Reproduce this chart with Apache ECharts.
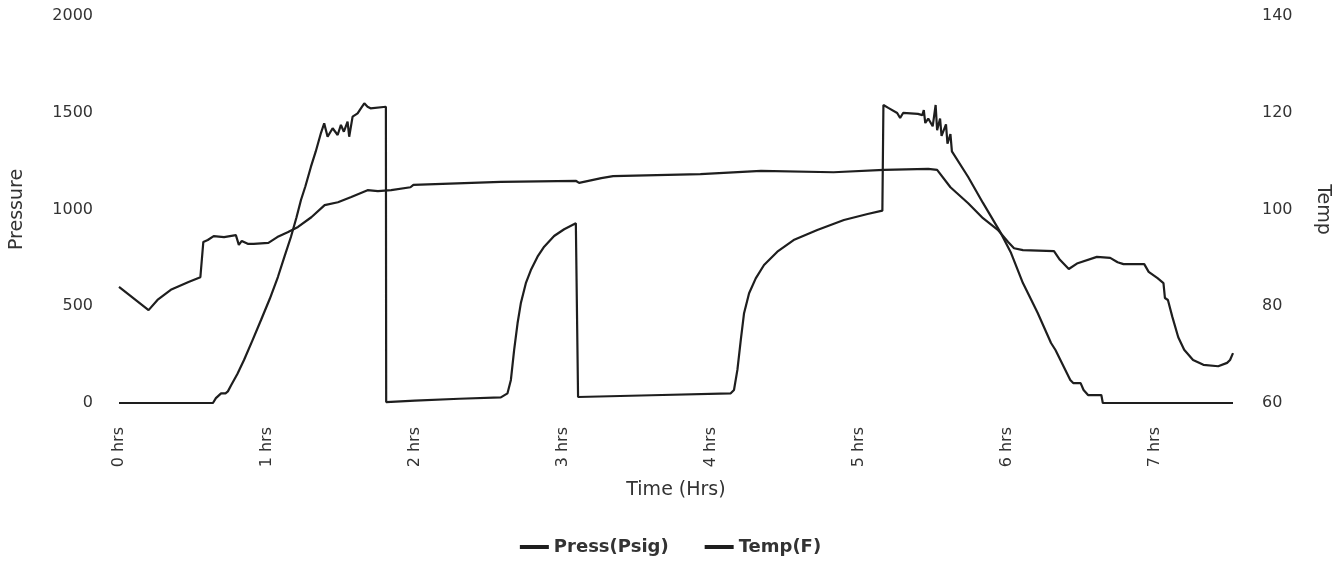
<!DOCTYPE html>
<html>
<head>
<meta charset="utf-8">
<script src="https://cdn.jsdelivr.net/npm/echarts@6/dist/echarts.min.js"></script>
<style>
html,body{margin:0;padding:0;background:#fff;}
#chart{width:1341px;height:567px;}
</style>
</head>
<body>
<div id="chart"></div>
<script>
// Time in hours
const pressTime = [0, 0.635, 0.655, 0.69, 0.72, 0.736, 0.757, 0.80, 0.845, 0.90, 0.96, 1.02, 1.074, 1.12, 1.162, 1.20, 1.23, 1.26, 1.297, 1.33, 1.365,
  1.387, 1.41, 1.444, 1.478, 1.50, 1.52, 1.545, 1.556, 1.579, 1.613, 1.635, 1.658, 1.68, 1.70, 1.804,
  1.806, 2.0, 2.3, 2.581, 2.626, 2.649, 2.671, 2.694, 2.716, 2.75, 2.784, 2.829, 2.874, 2.941, 3.009, 3.088, 3.10,
  3.103, 3.6, 4.135, 4.157, 4.18, 4.203, 4.225, 4.259, 4.304, 4.36, 4.45, 4.56, 4.72, 4.90, 5.06, 5.16,
  5.167, 5.20, 5.26, 5.28, 5.30, 5.40, 5.43, 5.44, 5.45, 5.47, 5.50, 5.52, 5.53, 5.55, 5.56, 5.59, 5.60, 5.62, 5.63, 5.74, 5.84, 5.96, 6.03, 6.11, 6.21, 6.30, 6.33, 6.43, 6.45, 6.50, 6.52, 6.55, 6.64, 6.65, 7.53];
const pressValues = [0, 0, 25, 50, 50, 60, 90, 150, 222, 320, 429, 540, 651, 760, 858, 960, 1049, 1120, 1220, 1300, 1395,
  1445, 1376, 1420, 1385, 1437, 1402, 1454, 1376, 1480, 1497, 1523, 1549, 1531, 1523, 1531,
  5, 12, 22, 29, 50, 119, 274, 412, 515, 619, 687, 756, 808, 863, 898, 929, 929,
  31, 40, 50, 67, 171, 326, 464, 567, 644, 713, 782, 842, 894, 946, 977, 994,
  1540, 1525, 1499, 1473, 1499, 1494, 1488, 1514, 1447, 1470, 1430, 1540, 1410, 1470, 1380, 1440, 1340, 1390, 1300, 1168, 1034, 879, 775, 620, 465, 310, 274, 119, 103, 103, 67, 41, 41, 0, 0];

const tempTime = [0, 0.20, 0.26, 0.35, 0.47, 0.55, 0.57, 0.60, 0.64, 0.71, 0.79, 0.81, 0.83, 0.87, 0.91, 1.01, 1.07, 1.14, 1.21, 1.30, 1.39, 1.48, 1.57, 1.68, 1.75, 1.84, 1.97, 1.99,
  2.58, 3.09, 3.11, 3.26, 3.34, 3.93, 4.34, 4.83, 5.17, 5.47, 5.53, 5.62, 5.74, 5.84, 5.94, 6.01, 6.05, 6.11, 6.32, 6.36, 6.42, 6.48, 6.61, 6.70, 6.75, 6.79, 6.93, 6.96,
  7.02, 7.06, 7.07, 7.09, 7.12, 7.16, 7.20, 7.26, 7.33, 7.43, 7.49, 7.51, 7.53];
const tempValues = [84.0, 79.2, 81.3, 83.4, 85.0, 86.0, 93.3, 93.7, 94.5, 94.3, 94.7, 92.7, 93.5, 92.9, 92.9, 93.1, 94.3, 95.3, 96.4, 98.4, 100.9, 101.5, 102.6, 104.0, 103.8, 104.0, 104.6, 105.1,
  105.7, 105.9, 105.5, 106.5, 106.9, 107.3, 108.0, 107.7, 108.2, 108.4, 108.2, 104.6, 101.3, 98.2, 95.8, 93.3, 92.0, 91.6, 91.4, 89.6, 87.7, 88.9, 90.2, 90.0, 89.1, 88.7, 88.7, 87.1,
  85.8, 84.8, 81.7, 81.3, 77.8, 73.6, 71.0, 68.9, 67.9, 67.6, 68.3, 68.9, 70.3];

const seriesNames = ['Press(Psig)', 'Temp(F)'];
const xName = 'Time (Hrs)';
const leftName = 'Pressure';
const rightName = 'Temp';

const zip = (a, b) => a.map((v, i) => [v, b[i]]);
const FONT = 'DejaVu Sans';
const LINE = '#1e1e1e';

const chart = echarts.init(document.getElementById('chart'), null, {renderer: 'canvas'});
chart.setOption({
  animation: false,
  backgroundColor: '#ffffff',
  textStyle: {fontFamily: FONT},
  grid: {left: 118, right: 108, top: 16, bottom: 164, containLabel: false},
  legend: {
    bottom: 6,
    left: 'center',
    itemGap: 36,
    itemWidth: 29,
    itemHeight: 4,
    icon: 'rect',
    data: seriesNames,
    textStyle: {fontFamily: FONT, fontSize: 18, fontWeight: 'bold', color: '#333'}
  },
  xAxis: {
    type: 'value',
    min: 0,
    max: 7.53,
    interval: 1,
    name: xName,
    nameLocation: 'middle',
    nameGap: 78,
    nameTextStyle: {fontFamily: FONT, fontSize: 19, color: '#333'},
    axisLine: {show: false},
    axisTick: {show: false},
    splitLine: {show: false},
    axisLabel: {
      rotate: 90,
      margin: 24,
      showMaxLabel: false,
      fontFamily: FONT, fontSize: 16, color: '#333',
      formatter: v => v + ' hrs'
    }
  },
  yAxis: [
    {
      type: 'value',
      min: 0, max: 2000, interval: 500,
      position: 'left',
      name: leftName,
      nameLocation: 'middle',
      nameGap: 92,
      nameTextStyle: {fontFamily: FONT, fontSize: 19, color: '#333'},
      axisLine: {show: false},
      axisTick: {show: false},
      splitLine: {show: false},
      axisLabel: {margin: 26, fontFamily: FONT, fontSize: 16, color: '#333', formatter: v => String(v)}
    },
    {
      type: 'value',
      min: 60, max: 140, interval: 20,
      position: 'right',
      name: rightName,
      nameLocation: 'middle',
      nameRotate: -90,
      nameGap: 80,
      nameTextStyle: {fontFamily: FONT, fontSize: 19, color: '#333'},
      axisLine: {show: false},
      axisTick: {show: false},
      splitLine: {show: false},
      axisLabel: {margin: 29, fontFamily: FONT, fontSize: 16, color: '#333', formatter: v => String(v)}
    }
  ],
  series: [
    {
      name: seriesNames[0],
      type: 'line',
      yAxisIndex: 0,
      data: zip(pressTime, pressValues),
      showSymbol: false,
      symbol: 'none',
      lineStyle: {color: LINE, width: 2.2},
      itemStyle: {color: LINE}
    },
    {
      name: seriesNames[1],
      type: 'line',
      yAxisIndex: 1,
      data: zip(tempTime, tempValues),
      showSymbol: false,
      symbol: 'none',
      lineStyle: {color: LINE, width: 2.2},
      itemStyle: {color: LINE}
    }
  ]
});
</script>
</body>
</html>
